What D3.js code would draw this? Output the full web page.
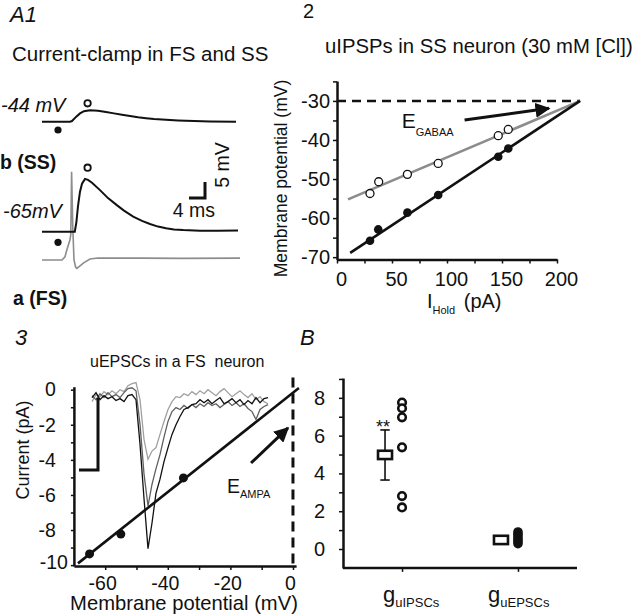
<!DOCTYPE html>
<html><head><meta charset="utf-8">
<script src="https://cdn.jsdelivr.net/npm/d3@7"></script>
<style>
body{margin:0;background:#fff;}
svg{display:block;font-family:"Liberation Sans",Arial,Helvetica,sans-serif;}
</style></head><body>
<svg id="c" width="640" height="616"></svg>
<script>
// ================= DATA =================
// A1: current-clamp traces (time ms, deflection mV)
const ssDepT   = [0, 7, 7.5, 8.5, 9.5, 10.5, 12, 14, 16, 18, 20, 22, 24, 26, 28, 31, 34, 38, 42, 48.5];
const ssDepV   = [0, 0, 0.2, 1.5, 2.6, 3.3, 3.6, 3.4, 3.0, 2.6, 2.2, 1.8, 1.4, 1.1, 0.85, 0.6, 0.4, 0.2, 0.1, 0];
const ssRestT  = [0, 8.2, 8.6, 9.0, 9.5, 10, 10.75, 11.5, 12.5, 14.5, 16.5, 18.7, 20.5, 22.8, 25, 27, 29, 31, 33, 35.3, 39.5, 44, 49];
const ssRestV  = [0, 0, 3, 8, 12.5, 15, 16.5, 16.2, 15.3, 13, 10.5, 8.3, 6.6, 4.7, 3.4, 2.4, 1.6, 1.05, 0.7, 0.5, 0.3, 0.3, 0.4];
const fsT      = [0, 5, 5.75, 6.2, 7.0, 7.2, 7.4, 7.7, 8.0, 8.4, 8.7, 9.5, 10.5, 12, 14, 18, 25, 35, 49.5];
const fsV      = [0, 0, 1, 3.1, 6.3, 8, 27.6, 10, 0, -2.2, -2.6, -1.8, -0.8, 0.3, 0.6, 0.6, 0.6, 0.5, 0.6];
const holdLabels = ["-44 mV", "-65mV"];

// Panel 2: uIPSP reversal
const iHoldFilled = [30, 37.5, 64, 92, 146.6, 155.7];
const vFilled     = [-65.8, -62.9, -58.6, -54.1, -44.3, -42.2];
const iHoldOpen   = [30, 37.9, 64, 92, 146.6, 155.7];
const vOpen       = [-53.7, -50.7, -48.8, -46.0, -38.9, -37.3];
const fitFilledI  = [12, 221];
const fitFilledV  = [-68.9, -30];
const fitOpenI    = [10, 221];
const fitOpenV    = [-55.2, -30];
const eGABAA      = -30;
const p2xTicks    = [0, 25, 50, 75, 100, 125, 150, 175, 200];
const p2yTicks    = [-70, -65, -60, -55, -50, -45, -40, -35, -30, -25];

// Panel 3: uEPSC I-V
const vHold3   = [-65, -55, -35];
const iPeak3   = [-9.36, -8.23, -5.03];
const fit3V    = [-68.7, 1.9];
const fit3I    = [-9.9, 0.1];
const eAMPA    = 0;
const p3xTicks = [-60, -50, -40, -30, -20, -10, 0];
const p3yTicks = [-10, -9, -8, -7, -6, -5, -4, -3, -2, -1, 0];
// inset uEPSC traces (time ms, current)
const trT = d3.range(0, 45);
const trBlack = [-0.45,-0.17,-0.57,-0.34,-0.51,-0.40,-0.62,-0.51,-0.68,-0.34,-0.28,-0.57,-3.1,-6.2,-9.06,-7.6,-5.9,-5.1,-4.1,-3.3,-2.55,-2.0,-1.53,-1.13,-1.02,-0.85,-0.8,-0.57,-0.74,-0.57,-0.8,-0.62,-0.45,-0.8,-0.68,-0.51,-0.74,-0.57,-0.85,-0.62,-0.8,-0.45,-0.74,-0.51,-0.45];
const trLight = [-0.68,-0.28,-0.4,-0.11,-0.28,-0.06,-0.23,0,-0.11,0.23,0.34,0.4,-0.57,-2.83,-3.97,-3.5,-3.3,-2.55,-1.81,-1.13,-0.68,-0.4,-0.45,-0.23,-0.34,-0.11,-0.28,-0.06,-0.23,0,-0.17,-0.34,-0.11,0.06,-0.17,-0.4,-0.23,-0.06,-0.28,-0.45,-0.23,-0.57,-0.4,-0.68,-0.8];
const trDark = [-0.34,-0.57,-0.23,-0.45,-0.17,-0.4,-0.28,-0.45,-0.17,0.06,0.11,-0.06,-1.98,-4.8,-6.63,-5.4,-4.5,-3.7,-2.7,-1.81,-1.25,-1.02,-1.13,-0.9,-1.07,-0.85,-1.02,-0.8,-0.96,-0.74,-0.9,-0.8,-1.02,-0.85,-0.68,-0.9,-0.74,-0.96,-0.8,-1.07,-1.25,-1.7,-1.13,-0.96,-0.85];

// Panel B: conductances
const gCats     = ["uIPSCs", "uEPSCs"];
const ipscBox   = [3.65, 4.76, 5.2, 6.3];   // whisker low, q1, q3, whisker high
const epscBox   = [0.26, 0.26, 0.7, 0.7];
const ipscPts   = [7.75, 7.45, 6.97, 5.38, 2.8, 2.2];
const epscPts   = [0.9, 0.78, 0.65, 0.52, 0.4, 0.28];
const pBTicks   = [0, 1, 2, 3, 4, 5, 6, 7, 8, 9];

// ================= DRAW =================
const svg = d3.select("#c");
svg.append("rect").attr("width",640).attr("height",616).attr("fill","#fff");

function txt(x, y, s, size, opts={}) {
  const t = svg.append("text").attr("x", x).attr("y", y).attr("font-size", size).attr("fill", "#111").text(s);
  if (opts.italic) t.attr("font-style", "italic");
  if (opts.bold) t.attr("font-weight", "bold");
  if (opts.anchor) t.attr("text-anchor", opts.anchor);
  if (opts.rotate) t.attr("transform", `rotate(${opts.rotate},${x},${y})`);
  return t;
}
function styleAxis(g, fs) {
  g.select(".domain").attr("stroke", "#111").attr("stroke-width", 2.5);
  g.selectAll(".tick line").attr("stroke", "#111").attr("stroke-width", 1.5);
  g.selectAll(".tick text").attr("fill", "#111").attr("font-size", fs)
    .attr("font-family", '"Liberation Sans",Arial,sans-serif');
}

// ---------- Panel A1 ----------
txt(10, 22, "A1", 22, {italic: true});
txt(12, 61, "Current-clamp in FS and SS", 20.5);
const tA = d3.scaleLinear().domain([0, 49]).range([42, 238]);
const mvA = d3.scaleLinear().domain([0, 10]).range([0, -32]);
const baseDep = 121.7, baseRest = 231.7, baseFs = 260;
const lineA = base => d3.line().x(d => tA(d[0])).y(d => base + mvA(d[1]));
svg.append("path").attr("d", lineA(baseFs)(d3.zip(fsT, fsV)))
  .attr("fill", "none").attr("stroke", "#8c8c8c").attr("stroke-width", 1.6);
svg.append("path").attr("d", lineA(baseDep)(d3.zip(ssDepT, ssDepV)))
  .attr("fill", "none").attr("stroke", "#111").attr("stroke-width", 2);
svg.append("path").attr("d", lineA(baseRest)(d3.zip(ssRestT, ssRestV)))
  .attr("fill", "none").attr("stroke", "#111").attr("stroke-width", 2);
txt(1, 112, holdLabels[0], 20, {italic: true});
txt(3, 218, holdLabels[1], 20, {italic: true});
txt(0, 169, "b (SS)", 19.5, {bold: true});
txt(13, 305, "a (FS)", 19.5, {bold: true});
// markers
[[baseDep + 8.3], [baseRest + 10.6]].forEach(([y]) =>
  svg.append("circle").attr("cx", tA(4)).attr("cy", y).attr("r", 3.6).attr("fill", "#111"));
[[baseDep - 18.4], [baseRest - 64]].forEach(([y]) =>
  svg.append("circle").attr("cx", tA(11.4)).attr("cy", y).attr("r", 3.2)
    .attr("fill", "#fff").attr("stroke", "#111").attr("stroke-width", 1.8));
// scale bar 4 ms / 5 mV
const sbY = 198;
svg.append("path").attr("d", `M${tA(36.75)},${sbY}H${tA(40.75)}V${sbY + mvA(5)}`)
  .attr("fill", "none").attr("stroke", "#111").attr("stroke-width", 3);
txt(194, 217, "4 ms", 19.5, {anchor: "middle"});
txt(229, 165, "5 mV", 19.5, {anchor: "middle", rotate: -90});

// ---------- Panel 2 ----------
txt(303, 18, "2", 20);
txt(325, 53, "uIPSPs in SS neuron (30 mM [Cl])", 20.3);
const x2 = d3.scaleLinear().domain([0, 200]).range([337, 557]);
const y2 = d3.scaleLinear().domain([-70.6, -24.9]).range([259.5, 81]);
const gx2 = svg.append("g").attr("transform", `translate(0,${y2(-70.6)})`)
  .call(d3.axisBottom(x2).tickValues(p2xTicks).tickSize(4).tickSizeOuter(0).tickPadding(8)
    .tickFormat(d => d % 50 === 0 ? String(d) : ""));
styleAxis(gx2, 20);
gx2.selectAll(".tick text").attr("dx", 4);
const gy2 = svg.append("g").attr("transform", `translate(${x2(0)},0)`)
  .call(d3.axisLeft(y2).tickValues(p2yTicks).tickSize(4).tickSizeOuter(0).tickPadding(3)
    .tickFormat(d => d % 10 === 0 && d >= -70 && d <= -30 ? String(d) : ""));
styleAxis(gy2, 20);
// E_GABAA dashed line
svg.append("line").attr("x1", x2(0)).attr("x2", x2(221)).attr("y1", y2(eGABAA)).attr("y2", y2(eGABAA))
  .attr("stroke", "#111").attr("stroke-width", 2.5).attr("stroke-dasharray", "9,6");
const l2 = d3.line().x(d => x2(d[0])).y(d => y2(d[1]));
svg.append("path").attr("d", l2(d3.zip(fitOpenI, fitOpenV))).attr("stroke", "#8c8c8c").attr("stroke-width", 2.6).attr("fill", "none");
svg.append("path").attr("d", l2(d3.zip(fitFilledI, fitFilledV))).attr("stroke", "#111").attr("stroke-width", 2.6).attr("fill", "none");
svg.selectAll(".p2f").data(d3.zip(iHoldFilled, vFilled)).join("circle")
  .attr("cx", d => x2(d[0])).attr("cy", d => y2(d[1])).attr("r", 4.3).attr("fill", "#111");
svg.selectAll(".p2o").data(d3.zip(iHoldOpen, vOpen)).join("circle")
  .attr("cx", d => x2(d[0])).attr("cy", d => y2(d[1])).attr("r", 4).attr("fill", "#fff")
  .attr("stroke", "#111").attr("stroke-width", 1.3);
// arrow
svg.append("defs").html(`<marker id="ah" viewBox="0 0 10 10" refX="9" refY="5" markerWidth="5" markerHeight="5" orient="auto"><path d="M0,0L10,5L0,10z" fill="#111"/></marker>`);
svg.append("line").attr("x1", x2(116)).attr("y1", y2(-34.9)).attr("x2", x2(192.7)).attr("y2", y2(-31.9))
  .attr("stroke", "#111").attr("stroke-width", 3).attr("marker-end", "url(#ah)");
const eg = txt(401.7, 128.3, "E", 21);
eg.append("tspan").attr("font-size", 11).attr("dy", 7.5).text("GABAA");
const xl2 = txt(427, 308, "I", 20);
xl2.append("tspan").attr("font-size", 11).attr("dy", 6).text("Hold");
xl2.append("tspan").attr("dy", -6).attr("dx", 3).text(" (pA)");
txt(287, 178.5, "Membrane potential (mV)", 17.5, {anchor: "middle", rotate: -90});

// ---------- Panel 3 ----------
txt(15, 345, "3", 22, {italic: true});
txt(90, 366.5, "uEPSCs in a FS  neuron", 16).style("white-space", "pre");
const x3 = d3.scaleLinear().domain([-70, 1]).range([73.9, 296.1]);
const y3 = d3.scaleLinear().domain([-10.05, 0.17]).range([566, 386.7]);
const gx3 = svg.append("g").attr("transform", `translate(0,${y3(-10.05)})`)
  .call(d3.axisBottom(x3).tickValues(p3xTicks).tickSize(4).tickSizeOuter(0).tickPadding(6)
    .tickFormat(d => d % 20 === 0 ? String(d) : ""));
styleAxis(gx3, 19.5);
gx3.selectAll(".tick text").attr("dx", -3);
const gy3 = svg.append("g").attr("transform", `translate(${x3(-70)},0)`)
  .call(d3.axisLeft(y3).tickValues(p3yTicks).tickSize(3).tickSizeOuter(0).tickPadding(15)
    .tickFormat(d => d % 2 === 0 ? String(d) : ""));
styleAxis(gy3, 19.5);
gy3.selectAll(".tick text").filter(d => d === -10).attr("x", -6).attr("dy", "0.15em");
// inset traces
const tIn = d3.scaleLinear().domain([0, 44]).range([92, 268]);
const lIn = d3.line().x(d => tIn(d[0])).y(d => y3(d[1]));
[[trLight, "#a0a0a0"], [trDark, "#606060"], [trBlack, "#111"]].forEach(([arr, c]) =>
  svg.append("path").attr("d", lIn(d3.zip(trT, arr))).attr("fill", "none").attr("stroke", c).attr("stroke-width", 1.3));
// inset scale bar
svg.append("path").attr("d", `M${tIn(-3.25)},${y3(-4.58)}H${tIn(1.5)}V${y3(-0.47)}`)
  .attr("fill", "none").attr("stroke", "#111").attr("stroke-width", 3);
// E_AMPA dashed
svg.append("line").attr("x1", x3(eAMPA)).attr("x2", x3(eAMPA)).attr("y1", y3(0.7)).attr("y2", y3(-10.05))
  .attr("stroke", "#111").attr("stroke-width", 3).attr("stroke-dasharray", "10,6");
const l3 = d3.line().x(d => x3(d[0])).y(d => y3(d[1]));
svg.append("path").attr("d", l3(d3.zip(fit3V, fit3I))).attr("stroke", "#111").attr("stroke-width", 2.6).attr("fill", "none");
svg.selectAll(".p3").data(d3.zip(vHold3, iPeak3)).join("circle")
  .attr("cx", d => x3(d[0])).attr("cy", d => y3(d[1])).attr("r", 4.5).attr("fill", "#111");
svg.append("line").attr("x1", x3(-13.4)).attr("y1", y3(-4.18)).attr("x2", x3(-1.6)).attr("y2", y3(-2.18))
  .attr("stroke", "#111").attr("stroke-width", 3).attr("marker-end", "url(#ah)");
const ea = txt(227, 493, "E", 19.5);
ea.append("tspan").attr("font-size", 11).attr("dy", 5).text("AMPA");
txt(29, 450, "Current (pA)", 18, {anchor: "middle", rotate: -90});
txt(184, 610, "Membrane potential (mV)", 20.2, {anchor: "middle"});

// ---------- Panel B ----------
txt(300, 345, "B", 22, {italic: true});
const xB = d3.scalePoint().domain(gCats).range([343, 577]).padding(0.509);
const yB = d3.scaleLinear().domain([-1, 9.05]).range([567.9, 378]);
const gxB = svg.append("g").attr("transform", `translate(0,${yB(-1)})`)
  .call(d3.axisBottom(xB).tickSize(4).tickSizeOuter(0).tickFormat(""));
styleAxis(gxB, 12);
gxB.select(".domain").attr("d", `M343,0H577`);
const gyB = svg.append("g").attr("transform", `translate(343,0)`)
  .call(d3.axisLeft(yB).tickValues(pBTicks).tickSize(4).tickSizeOuter(0).tickPadding(14)
    .tickFormat(d => d % 2 === 0 && d <= 8 ? String(d) : ""));
styleAxis(gyB, 20);
function box(cat, b) {
  const cx = xB(cat) - 17;
  if (b[0] !== b[1]) {
    svg.append("line").attr("x1", cx).attr("x2", cx).attr("y1", yB(b[0])).attr("y2", yB(b[3]))
      .attr("stroke", "#111").attr("stroke-width", 1.6);
    [b[0], b[3]].forEach(v => svg.append("line").attr("x1", cx - 4.7).attr("x2", cx + 4.7)
      .attr("y1", yB(v)).attr("y2", yB(v)).attr("stroke", "#111").attr("stroke-width", 1.6));
  }
  svg.append("rect").attr("x", cx - 7).attr("width", 14).attr("y", yB(b[2])).attr("height", yB(b[1]) - yB(b[2]))
    .attr("fill", "#fff").attr("stroke", "#111").attr("stroke-width", 2.6);
}
box("uIPSCs", ipscBox);
box("uEPSCs", epscBox);
svg.selectAll(".pbi").data(ipscPts).join("circle")
  .attr("cx", xB("uIPSCs")).attr("cy", d => yB(d)).attr("r", 3.8).attr("fill", "#fff")
  .attr("stroke", "#111").attr("stroke-width", 2.6);
svg.selectAll(".pbe").data(epscPts).join("circle")
  .attr("cx", xB("uEPSCs")).attr("cy", d => yB(d)).attr("r", 4.8).attr("fill", "#111");
txt(xB("uIPSCs") - 19, 433, "**", 18, {anchor: "middle"});
[["uIPSCs", 383], ["uEPSCs", 488]].forEach(([c, x]) => {
  const t = txt(x, 602, "g", 22);
  t.append("tspan").attr("font-size", 13).attr("dy", 5).text(c);
});
</script>
</body></html>
